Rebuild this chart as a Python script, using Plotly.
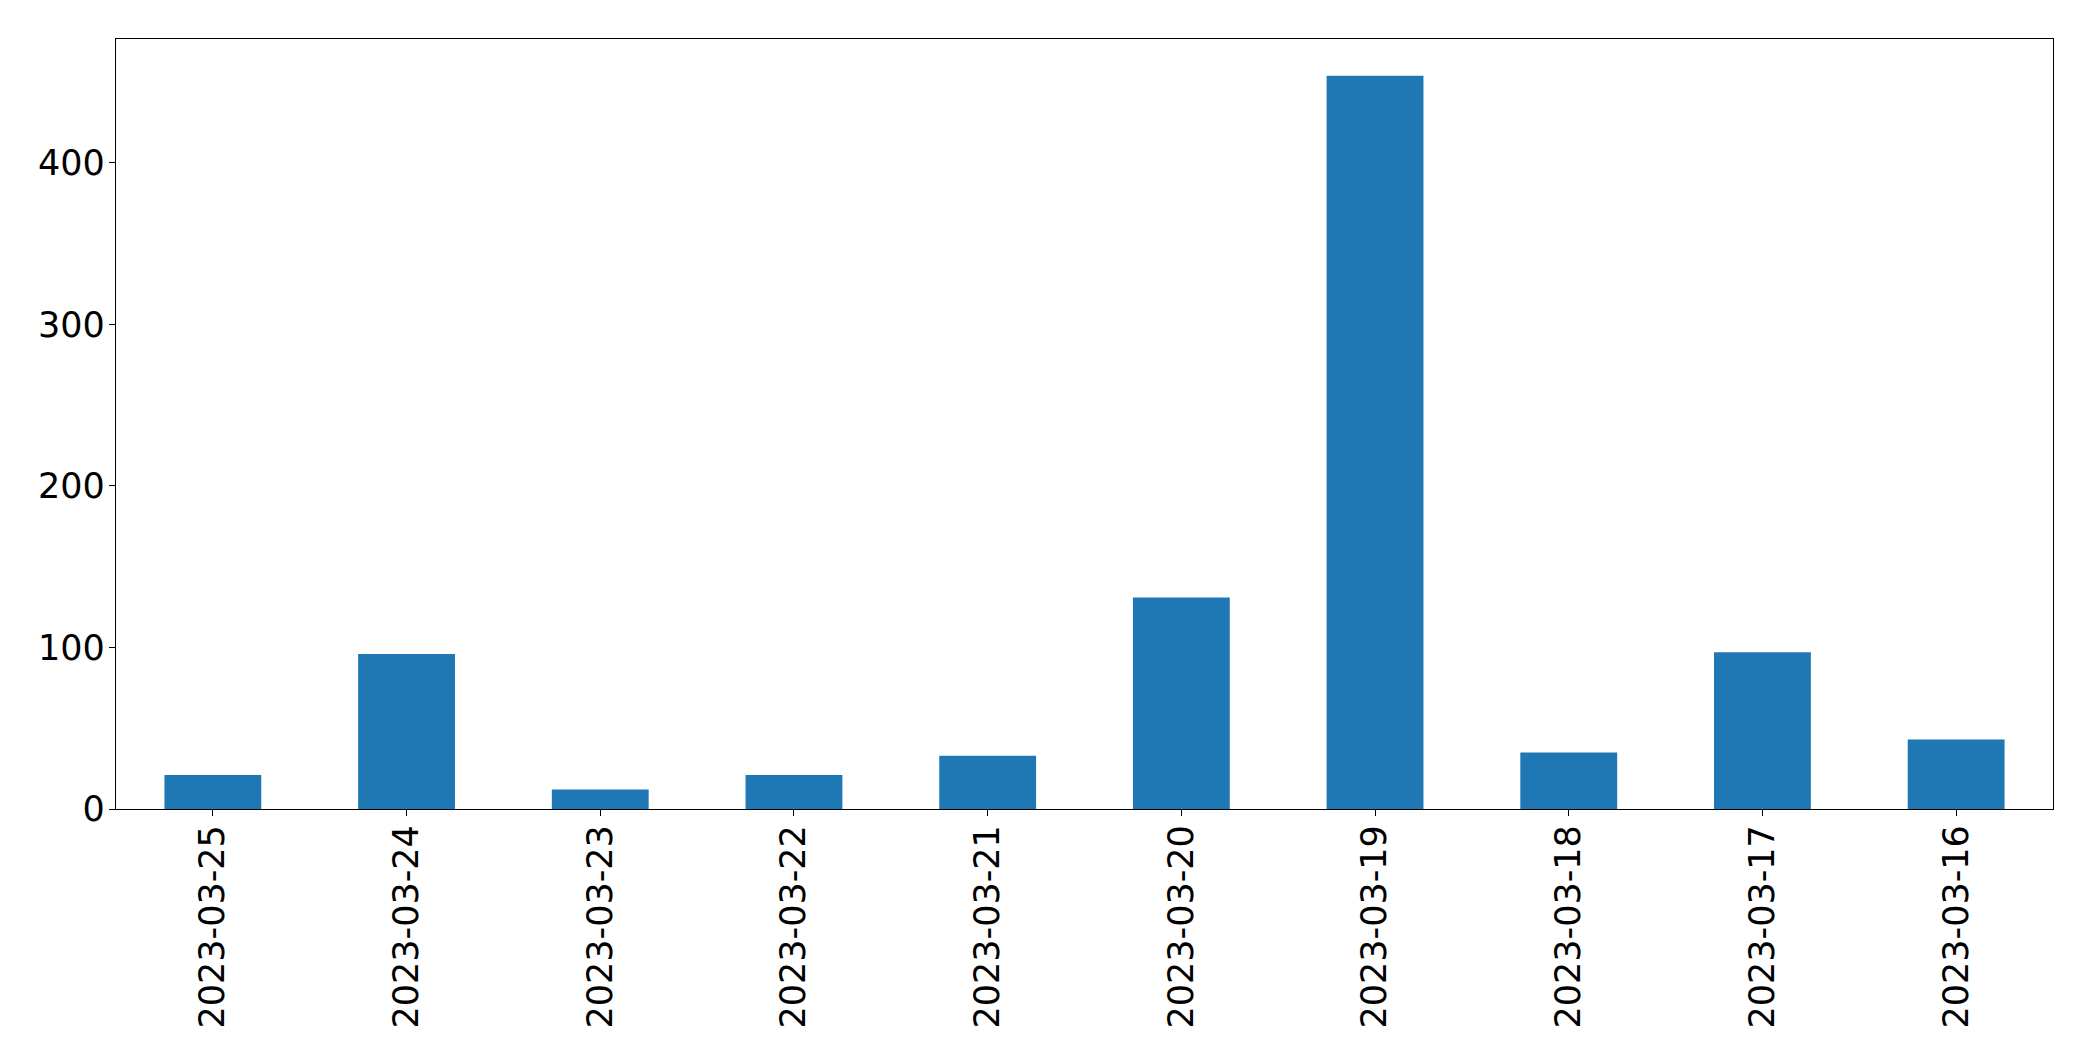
import plotly.graph_objects as go

dates = ["2023-03-25", "2023-03-24", "2023-03-23", "2023-03-22", "2023-03-21",
         "2023-03-20", "2023-03-19", "2023-03-18", "2023-03-17", "2023-03-16"]
counts = [21, 96, 12, 21, 33, 131, 454, 35, 97, 43]
y_ticks = [0, 100, 200, 300, 400]

fig = go.Figure(go.Bar(x=dates, y=counts, width=0.5, marker_color="#1f77b4",
                       marker_line_width=0))

font = dict(family="DejaVu Sans", size=35, color="black")
fig.update_layout(
    width=2085, height=1053,
    margin=dict(l=108, r=40, t=31, b=252),
    paper_bgcolor="white", plot_bgcolor="white",
    showlegend=False, bargap=0.5,
    font=font,
)
fig.update_xaxes(type="category", range=[-0.5, len(dates) - 0.5],
                 tickangle=-90, ticks="outside", ticklen=6, tickwidth=1.3,
                 tickcolor="black", showline=True, linecolor="black", linewidth=1.3,
                 mirror=True, showgrid=False, tickfont=font, ticklabelstandoff=-5)
fig.update_yaxes(range=[0, max(counts) * 1.05], tickvals=y_ticks,
                 ticks="outside", ticklen=6, tickwidth=1.3, tickcolor="black",
                 showline=True, linecolor="black", linewidth=1.3, mirror=True,
                 showgrid=False, zeroline=False, tickfont=font, ticklabelstandoff=-3)

fig.write_html("out.html")
